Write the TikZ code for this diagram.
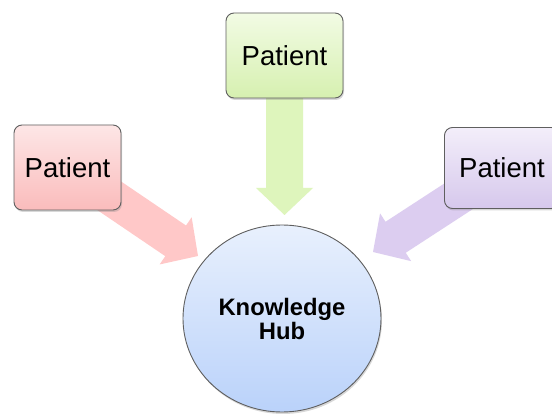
\documentclass[tikz,border=0pt]{standalone}
\usepackage{fontspec}
\setmainfont{Liberation Sans}
\usetikzlibrary{calc,shadows,shapes.geometric}
\definecolor{redA}{RGB}{253,230,230}
\definecolor{redB}{RGB}{250,188,188}
\definecolor{redF}{RGB}{255,200,200}
\definecolor{grnA}{RGB}{242,251,228}
\definecolor{grnB}{RGB}{214,240,176}
\definecolor{grnF}{RGB}{222,245,188}
\definecolor{purA}{RGB}{243,238,250}
\definecolor{purB}{RGB}{214,200,236}
\definecolor{purF}{RGB}{220,205,240}
\definecolor{bluA}{RGB}{232,240,253}
\definecolor{bluB}{RGB}{186,210,250}
\definecolor{edge}{RGB}{95,95,95}
\tikzset{
  patientbox/.style={draw=edge, line width=0.9pt, rounded corners=8pt,
    minimum height=85pt, inner sep=0pt,
    drop shadow={opacity=0.3, shadow xshift=1pt, shadow yshift=-2pt},
    font=\fontsize{27.5}{31}\selectfont},
  hub/.style={ellipse, draw=edge, line width=0.9pt, minimum width=198pt, minimum height=187pt,
    top color=bluA, bottom color=bluB, align=center,
    drop shadow={opacity=0.3, shadow xshift=1pt, shadow yshift=-2pt},
    font=\fontsize{23.8}{24}\selectfont\bfseries},
}
% #1 fill colour, #2 start, #3 tip, #4 name
\newcommand\fatarrow[4]{%
  \coordinate (#4h) at ($(#3)!27pt!(#2)$);
  \fill[#1] ($(#2)!18.5pt!90:(#3)$) -- ($(#4h)!18.5pt!-90:(#2)$) -- ($(#4h)!28.5pt!-90:(#2)$)
    -- (#3) -- ($(#4h)!28.5pt!90:(#2)$) -- ($(#4h)!18.5pt!90:(#2)$) -- ($(#2)!18.5pt!-90:(#3)$) -- cycle;
}
\begin{document}
\begin{tikzpicture}[x=1pt,y=1pt]
\useasboundingbox (0,0) rectangle (552,413);
\fill[white] (0,0) rectangle (552,413);
% anchor coordinates
\coordinate (lc) at (67.5,245.5);
\coordinate (tc) at (284.5,357.5);
\coordinate (rc) at (502,245);
\coordinate (ltip) at (198,157);
\coordinate (ttip) at (284.5,198);
\coordinate (rtip) at (373,161);
% fat arrows
\fatarrow{redF}{lc}{ltip}{la}
\fatarrow{grnF}{tc}{ttip}{ta}
\fatarrow{purF}{rc}{rtip}{ra}
% nodes
\node[hub] (hub) at (282,94.5) {Knowledge\\Hub};
\node[patientbox, minimum width=107pt, top color=redA, bottom color=redB] (p1) at (lc) {Patient};
\node[patientbox, minimum width=117pt, top color=grnA, bottom color=grnB] (p2) at (tc) {Patient};
\node[patientbox, minimum width=115pt, minimum height=81pt, top color=purA, bottom color=purB] (p3) at (rc) {Patient};
\end{tikzpicture}
\end{document}
